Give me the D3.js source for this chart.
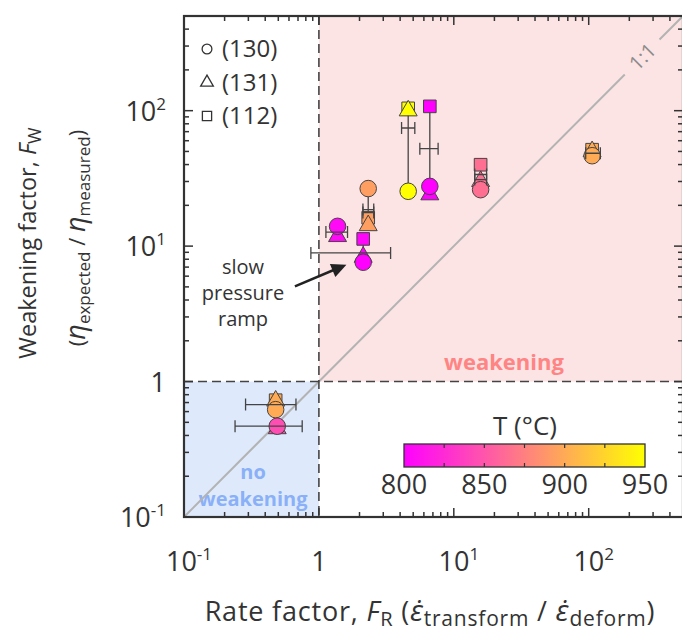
<!DOCTYPE html>
<html>
<head>
<meta charset="utf-8">
<script src="https://cdn.jsdelivr.net/npm/d3@7"></script>
<style>
  body { margin: 0; background: #fff; }
  text { font-family: "Open Sans", sans-serif; fill: #333; }
</style>
</head>
<body>
<svg id="chart" width="682" height="633"></svg>
<script>
// rate factor FR, weakening factor FW, temperature T (°C)
const circlePts = [
  { fr: 1.375, fw: 14.0, T: 805 },
  { fr: 2.32, fw: 26.6, T: 893 },
  { fr: 2.13, fw: 7.6, T: 800 },
  { fr: 4.59, fw: 25.4, T: 950 },
  { fr: 6.64, fw: 27.6, T: 800 },
  { fr: 15.8, fw: 26.1, T: 865 },
  { fr: 106, fw: 46.5, T: 900 },
  { fr: 0.478, fw: 0.62, T: 900 },
  { fr: 0.491, fw: 0.468, T: 845 }
];
const trianglePts = [
  { fr: 1.375, fw: 11.8, T: 805 },
  { fr: 2.32, fw: 14.2, T: 893 },
  { fr: 2.13, fw: 8.3, T: 800 },
  { fr: 4.59, fw: 100, T: 950 },
  { fr: 6.64, fw: 24.0, T: 800 },
  { fr: 15.8, fw: 30.1, T: 865 },
  { fr: 106, fw: 50, T: 900 },
  { fr: 0.478, fw: 0.72, T: 900 },
  { fr: 0.491, fw: 0.45, T: 845 }
];
const squarePts = [
  { fr: 2.32, fw: 16.2, T: 893 },
  { fr: 2.13, fw: 11.3, T: 803 },
  { fr: 4.59, fw: 104, T: 950 },
  { fr: 6.64, fw: 107.6, T: 800 },
  { fr: 15.8, fw: 39.9, T: 865 },
  { fr: 106, fw: 51.5, T: 900 },
  { fr: 0.478, fw: 0.728, T: 900 }
];
// horizontal error bars on FR
const errBars = [
  { fw: 12.7, lo: 1.127, hi: 1.63 },
  { fw: 18.6, lo: 2.12, hi: 2.55 },
  { fw: 17.7, lo: 2.12, hi: 2.55 },
  { fw: 8.9, lo: 0.872, hi: 3.40 },
  { fw: 74.5, lo: 4.10, hi: 5.14 },
  { fw: 52.4, lo: 5.60, hi: 7.65 },
  { fw: 33.8, lo: 14.3, hi: 17.5 },
  { fw: 31.0, lo: 14.3, hi: 17.5 },
  { fw: 48.5, lo: 95, hi: 122 },
  { fw: 0.676, lo: 0.286, hi: 0.676 },
  { fw: 0.468, lo: 0.239, hi: 0.752 }
];
// vertical connectors between orientations of one run
const links = [
  { fr: 2.32, top: 26.6, bottom: 16.2 },
  { fr: 2.13, top: 11.3, bottom: 7.6 },
  { fr: 4.59, top: 100, bottom: 25.4 },
  { fr: 6.64, top: 107.6, bottom: 27.6 },
  { fr: 15.8, top: 39.9, bottom: 26.1 }
];
const majorTicks = [0.1, 1, 10, 100];
const tickLabels = [["10", "-1"], ["1", ""], ["10", "1"], ["10", "2"]];
const legendItems = ["(130)", "(131)", "(112)"];
const cbTicks = [800, 850, 900, 950];
const cbMinor = [825, 850, 875, 900, 925];

const svg = d3.select("#chart");
const x = d3.scaleLog().domain([0.1, 500]).range([184, 683]);
const y = d3.scaleLog().domain([0.1, 500]).range([517, 16]);
const color = d3.scaleLinear().domain([800, 950]).range(["#ff00ff", "#ffff00"]);

const minorTicks = [];
for (const d of majorTicks) for (let k = 2; k <= 9; k++) if (d * k <= 500) minorTicks.push(d * k);

// regions
svg.append("rect")
  .attr("x", x(1)).attr("y", y(500))
  .attr("width", x(500) - x(1)).attr("height", y(1) - y(500))
  .attr("fill", "#fde4e4");
svg.append("rect")
  .attr("x", x(0.1)).attr("y", y(1))
  .attr("width", x(1) - x(0.1)).attr("height", y(0.1) - y(1))
  .attr("fill", "#deeafc");

svg.append("text")
  .attr("x", 504).attr("y", 370)
  .attr("text-anchor", "middle")
  .attr("font-weight", "bold").attr("font-size", 22)
  .style("fill", "#ff8585")
  .text("weakening");
svg.append("g")
  .attr("font-weight", "bold").attr("font-size", 20)
  .attr("text-anchor", "middle")
  .selectAll("text")
  .data(["no", "weakening"])
  .join("text")
  .attr("x", 253).attr("y", (d, i) => 479 + i * 27)
  .style("fill", "#8ab0f7")
  .text(d => d);

// 1:1 line with gap for label
const oneToOne = [[0.1, 185], [335, 500]];
svg.append("g")
  .attr("stroke", "#b3b3b3").attr("stroke-width", 2)
  .selectAll("line")
  .data(oneToOne)
  .join("line")
  .attr("x1", d => x(d[0])).attr("y1", d => y(d[0]))
  .attr("x2", d => x(d[1])).attr("y2", d => y(d[1]));
svg.append("text")
  .attr("transform", `translate(${x(250)},${y(250)}) rotate(-45)`)
  .attr("text-anchor", "middle").attr("dy", "0.35em")
  .attr("font-size", 20)
  .style("fill", "#8c8c8c")
  .text("1:1");

// dashed boundaries
svg.append("line")
  .attr("x1", x(1)).attr("x2", x(1)).attr("y1", y(500)).attr("y2", y(0.1))
  .attr("stroke", "#444").attr("stroke-width", 1.6).attr("stroke-dasharray", "9,5");
svg.append("line")
  .attr("x1", x(0.1)).attr("x2", x(500)).attr("y1", y(1)).attr("y2", y(1))
  .attr("stroke", "#444").attr("stroke-width", 1.6).attr("stroke-dasharray", "9,5");

// connectors and error bars
svg.append("g")
  .attr("stroke", "#444").attr("stroke-width", 1.3)
  .selectAll("line")
  .data(links)
  .join("line")
  .attr("x1", d => x(d.fr)).attr("x2", d => x(d.fr))
  .attr("y1", d => y(d.top)).attr("y2", d => y(d.bottom));

const eb = svg.append("g").attr("stroke", "#444").attr("stroke-width", 1.3).attr("fill", "none");

// markers
const sym = d3.symbol();
const drawPts = (data, type, size) => {
  svg.append("g")
    .attr("stroke", "#444").attr("stroke-width", 1)
    .selectAll("path")
    .data(data)
    .join("path")
    .attr("transform", d => `translate(${x(d.fr)},${y(d.fw)})`)
    .attr("d", sym.type(type).size(size)())
    .attr("fill", d => color(d.T));
};
drawPts(squarePts, d3.symbolSquare, 160);
drawPts(trianglePts, d3.symbolTriangle, 140);
drawPts(circlePts, d3.symbolCircle, 215);

eb.raise();
eb.selectAll("path")
  .data(errBars)
  .join("path")
  .attr("d", d => {
    const yy = y(d.fw), a = x(d.lo), b = x(d.hi);
    return `M${a},${yy}H${b}M${a},${yy - 6}V${yy + 6}M${b},${yy - 6}V${yy + 6}`;
  });

// annotation arrow
const arrow = { from: [0.664, 5.05], to: [1.60, 7.30] };
const ax1 = x(arrow.from[0]), ay1 = y(arrow.from[1]);
const ax2 = x(arrow.to[0]), ay2 = y(arrow.to[1]);
const ang = Math.atan2(ay2 - ay1, ax2 - ax1);
svg.append("line")
  .attr("x1", ax1).attr("y1", ay1)
  .attr("x2", ax2 - 10 * Math.cos(ang))
  .attr("y2", ay2 - 10 * Math.sin(ang))
  .attr("stroke", "#222").attr("stroke-width", 2.5);
svg.append("path")
  .attr("transform", `translate(${ax2},${ay2}) rotate(${ang * 180 / Math.PI})`)
  .attr("d", "M0,0L-15,-7L-15,7Z")
  .attr("fill", "#222");
svg.append("g")
  .attr("font-size", 20).attr("text-anchor", "middle")
  .selectAll("text")
  .data(["slow", "pressure", "ramp"])
  .join("text")
  .attr("x", 243).attr("y", (d, i) => 274 + i * 26)
  .text(d => d);

// axes frame and ticks
svg.append("rect")
  .attr("x", x(0.1)).attr("y", y(500))
  .attr("width", x(500) - x(0.1)).attr("height", y(0.1) - y(500))
  .attr("fill", "none").attr("stroke", "#333").attr("stroke-width", 2.2);

const ticksG = svg.append("g").attr("stroke", "#333").attr("stroke-width", 1.5);
const addTicks = (vals, len) => {
  ticksG.append("g").selectAll("line").data(vals).join("line")
    .attr("x1", d => x(d)).attr("x2", d => x(d)).attr("y1", y(0.1)).attr("y2", y(0.1) - len);
  ticksG.append("g").selectAll("line").data(vals).join("line")
    .attr("x1", d => x(d)).attr("x2", d => x(d)).attr("y1", y(500)).attr("y2", y(500) + len);
  ticksG.append("g").selectAll("line").data(vals).join("line")
    .attr("y1", d => y(d)).attr("y2", d => y(d)).attr("x1", x(0.1)).attr("x2", x(0.1) + len);
  ticksG.append("g").selectAll("line").data(vals).join("line")
    .attr("y1", d => y(d)).attr("y2", d => y(d)).attr("x1", x(500)).attr("x2", x(500) - len);
};
addTicks(majorTicks, 9);
addTicks(minorTicks, 5);

const labelSup = (sel) => {
  sel.append("tspan").text(d => d[0]);
  sel.append("tspan").attr("dy", -11).attr("font-size", 17).text(d => d[1]);
};
svg.append("g")
  .attr("font-size", 27).attr("text-anchor", "middle")
  .selectAll("text")
  .data(tickLabels)
  .join("text")
  .attr("x", (d, i) => x(majorTicks[i]) + (d[1] ? 5 : 0))
  .attr("y", 571)
  .call(labelSup);
svg.append("g")
  .attr("font-size", 27).attr("text-anchor", "end")
  .selectAll("text")
  .data(tickLabels)
  .join("text")
  .attr("x", 166)
  .attr("y", (d, i) => y(majorTicks[i]) + 10)
  .call(labelSup);

// axis titles
const xt = svg.append("text")
  .attr("x", 430).attr("y", 621)
  .attr("text-anchor", "middle").attr("font-size", 27)
  .attr("letter-spacing", 0.8);
xt.append("tspan").text("Rate factor, ");
xt.append("tspan").attr("font-style", "italic").text("F");
xt.append("tspan").attr("font-size", 20).attr("dy", 5).text("R");
xt.append("tspan").attr("dy", -5).text(" (");
xt.append("tspan").attr("font-style", "italic").attr("font-size", 29).text("\u03b5\u0307");
xt.append("tspan").attr("font-size", 21).attr("dy", 5).text("transform");
xt.append("tspan").attr("dy", -5).text(" / ");
xt.append("tspan").attr("font-style", "italic").attr("font-size", 29).text("\u03b5\u0307");
xt.append("tspan").attr("font-size", 21).attr("dy", 5).text("deform");
xt.append("tspan").attr("dy", -5).text(")");

const yt1 = svg.append("text")
  .attr("transform", "translate(36,243) rotate(-90)")
  .attr("text-anchor", "middle").attr("font-size", 23.5);
yt1.append("tspan").text("Weakening factor, ");
yt1.append("tspan").attr("font-style", "italic").text("F");
yt1.append("tspan").attr("font-size", 18).attr("dy", 5).text("W");

const yt2 = svg.append("text")
  .attr("transform", "translate(85,238) rotate(-90)")
  .attr("text-anchor", "middle").attr("font-size", 22);
yt2.append("tspan").text("(");
yt2.append("tspan").attr("font-style", "italic").attr("font-size", 27).text("\u03b7");
yt2.append("tspan").attr("font-size", 17).attr("dy", 5).text("expected");
yt2.append("tspan").attr("dy", -5).text(" / ");
yt2.append("tspan").attr("font-style", "italic").attr("font-size", 27).text("\u03b7");
yt2.append("tspan").attr("font-size", 17).attr("dy", 5).text("measured");
yt2.append("tspan").attr("dy", -5).text(")");

// legend for orientations
const lg = svg.append("g");
const legSyms = [[d3.symbolCircle, 75], [d3.symbolTriangle, 70], [d3.symbolSquare, 85]];
lg.selectAll("path")
  .data(legSyms)
  .join("path")
  .attr("transform", (d, i) => `translate(207,${49 + i * 33.5})`)
  .attr("d", d => d3.symbol().type(d[0]).size(d[1])())
  .attr("fill", "none").attr("stroke", "#333").attr("stroke-width", 1.3);
lg.selectAll("text")
  .data(legendItems)
  .join("text")
  .attr("x", 222).attr("y", (d, i) => 57 + i * 33.5)
  .attr("font-size", 24)
  .text(d => d);

// colorbar
const cb = d3.scaleLinear().domain([800, 950]).range([404, 645]);
const defs = svg.append("defs");
const grad = defs.append("linearGradient").attr("id", "cbgrad");
grad.selectAll("stop")
  .data(d3.range(0, 1.01, 0.1))
  .join("stop")
  .attr("offset", d => d)
  .attr("stop-color", d => color(800 + 150 * d));
svg.append("rect")
  .attr("x", cb(800)).attr("y", 444)
  .attr("width", cb(950) - cb(800)).attr("height", 23)
  .attr("fill", "url(#cbgrad)")
  .attr("stroke", "#333").attr("stroke-width", 1.3);
const cbt = svg.append("g").attr("stroke", "#333").attr("stroke-width", 1.2);
cbt.selectAll(".t").data(cbMinor).join("line")
  .attr("class", "t")
  .attr("x1", d => cb(d)).attr("x2", d => cb(d)).attr("y1", 444).attr("y2", 448);
cbt.selectAll(".b").data(cbMinor).join("line")
  .attr("class", "b")
  .attr("x1", d => cb(d)).attr("x2", d => cb(d)).attr("y1", 467).attr("y2", 463);
svg.append("g")
  .attr("font-size", 27).attr("text-anchor", "middle")
  .selectAll("text")
  .data(cbTicks)
  .join("text")
  .attr("x", d => cb(d)).attr("y", 494)
  .text(d => d);
svg.append("text")
  .attr("x", 525).attr("y", 435)
  .attr("text-anchor", "middle").attr("font-size", 26)
  .text("T (°C)");
</script>
</body>
</html>
